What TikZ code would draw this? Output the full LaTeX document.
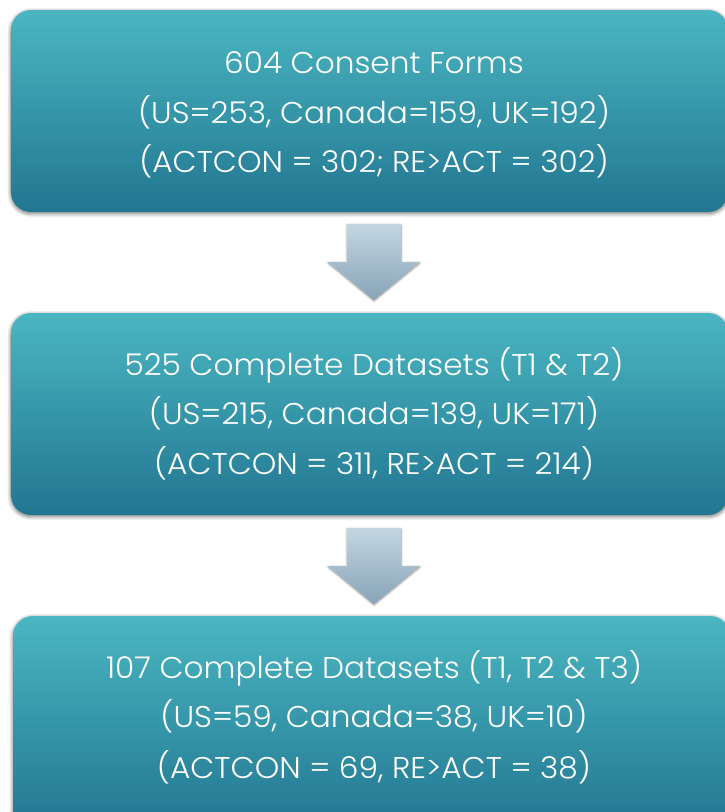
\documentclass[tikz,border=0pt]{standalone}
\usepackage{fontspec}
\IfFontExistsTF{Poppins Light}{\setmainfont{Poppins Light}[FakeStretch=1.04]}{\setmainfont{Poppins}[FakeStretch=1.04]}
\usetikzlibrary{shadows.blur}
\definecolor{boxtop}{RGB}{74,182,193}
\definecolor{boxbot}{RGB}{34,118,145}
\definecolor{arrtop}{RGB}{195,214,226}
\definecolor{arrbot}{RGB}{135,164,184}
\tikzset{
  stagebox/.style={rounded corners=20pt, top color=boxtop, bottom color=boxbot, draw=none,
    blur shadow={shadow xshift=0pt, shadow yshift=-1.5pt, shadow blur radius=4pt, shadow blur steps=8, shadow opacity=55}},
  downarrow/.style={top color=arrtop, bottom color=arrbot, draw=none,
    blur shadow={shadow xshift=0pt, shadow yshift=-1pt, shadow blur radius=2pt, shadow blur steps=5, shadow opacity=45}},
  txt/.style={text=white, font=\fontsize{30}{34}\selectfont, inner sep=0pt, anchor=base}
}
\begin{document}
\begin{tikzpicture}[x=1pt,y=-1pt]
\useasboundingbox (0,0) rectangle (725,812);
\begin{scope}
\clip (0,0) rectangle (725,812);
% boxes
\path[stagebox] (11,10) rectangle (728,212);
\path[stagebox] (11,313) rectangle (728,515);
\path[stagebox] (13,616) rectangle (730,830);
% arrows
\path[downarrow] (347,224) -- (401,224) -- (401,262) -- (420,262) -- (374,300) -- (328,262) -- (347,262) -- cycle;
\path[downarrow] (347,528) -- (401,528) -- (401,566) -- (420,566) -- (374,604) -- (328,566) -- (347,566) -- cycle;
\end{scope}
% texts
\node[txt] (t1a) at (374,73) {604 Consent Forms};
\node[txt] (t1b) at (374,123) {(US=253, Canada=159, UK=192)};
\node[txt] (t1c) at (374,172) {(ACTCON = 302; RE>ACT = 302)};
\node[txt] (t2a) at (374,375) {525 Complete Datasets (T1 \& T2)};
\node[txt] (t2b) at (374,424) {(US=215, Canada=139, UK=171)};
\node[txt] (t2c) at (374,474) {(ACTCON = 311, RE>ACT = 214)};
\node[txt] (t3a) at (374,678) {107 Complete Datasets (T1, T2 \& T3)};
\node[txt] (t3b) at (374,727) {(US=59, Canada=38, UK=10)};
\node[txt] (t3c) at (374,778) {(ACTCON = 69, RE>ACT = 38)};
\end{tikzpicture}
\end{document}
